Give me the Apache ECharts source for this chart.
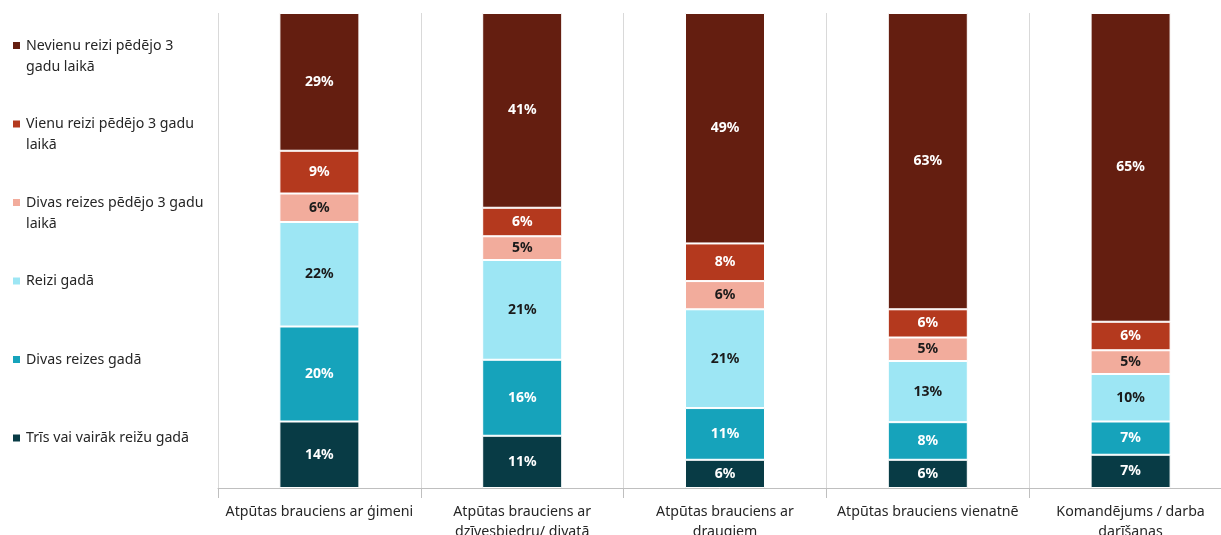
<!DOCTYPE html>
<html>
<head>
<meta charset="utf-8">
<script src="https://cdn.jsdelivr.net/npm/echarts@6/dist/echarts.min.js"></script>
<style>
html,body{margin:0;padding:0;background:#fff;}
#c{width:1221px;height:535px;}
</style>
</head>
<body>
<div id="c"></div>
<script>
// Categories (tick labels)
const categories = [
  'Atpūtas brauciens ar ģimeni',
  'Atpūtas brauciens ar\ndzīvesbiedru/ divatā',
  'Atpūtas brauciens ar\ndraugiem',
  'Atpūtas brauciens vienatnē',
  'Komandējums / darba\ndarīšanas'
];
// Series names (bottom to top of stack)
const seriesNames = [
  'Trīs vai vairāk reižu gadā',
  'Divas reizes gadā',
  'Reizi gadā',
  'Divas reizes pēdējo 3 gadu laikā',
  'Vienu reizi pēdējo 3 gadu laikā',
  'Nevienu reizi pēdējo 3 gadu laikā'
];
// Series values (%), per category
const trisVaiVairak   = [14, 11, 6, 6, 7];
const divasReizesGada = [20, 16, 11, 8, 7];
const reiziGada       = [22, 21, 21, 13, 10];
const divasReizes3    = [6, 5, 6, 5, 5];
const vienuReizi3     = [9, 6, 8, 6, 6];
const nevienuReizi3   = [29, 41, 49, 63, 65];

const seriesValues = [trisVaiVairak, divasReizesGada, reiziGada, divasReizes3, vienuReizi3, nevienuReizi3];
const colors = ['#083B45', '#16A3BB', '#9DE6F4', '#F2AC9C', '#B4391E', '#641E10'];
const labelColors = ['#FFFFFF', '#FFFFFF', '#1A1A1A', '#1A1A1A', '#FFFFFF', '#FFFFFF'];
const legendLines = {
  'Nevienu reizi pēdējo 3 gadu laikā': ['Nevienu reizi pēdējo 3', 'gadu laikā'],
  'Vienu reizi pēdējo 3 gadu laikā': ['Vienu reizi pēdējo 3 gadu', 'laikā'],
  'Divas reizes pēdējo 3 gadu laikā': ['Divas reizes pēdējo 3 gadu', 'laikā'],
  'Reizi gadā': ['Reizi gadā', ''],
  'Divas reizes gadā': ['Divas reizes gadā', ''],
  'Trīs vai vairāk reižu gadā': ['Trīs vai vairāk reižu gadā', '']
};

// 100% stacked: normalise each category to its total
const totals = categories.map((_, i) => seriesValues.reduce((s, arr) => s + arr[i], 0));

const FONT = 'Noto Sans';
const chart = echarts.init(document.getElementById('c'), null, {renderer: 'canvas'});

const series = seriesNames.map((name, k) => ({
  name: name,
  type: 'bar',
  stack: 'total',
  barWidth: 80,
  itemStyle: {color: colors[k], borderColor: '#FFFFFF', borderWidth: 1},
  label: {
    show: true,
    position: 'inside',
    color: labelColors[k],
    fontFamily: FONT,
    fontWeight: 'bold',
    fontSize: 14,
    formatter: p => seriesValues[k][p.dataIndex] + '%'
  },
  data: seriesValues[k].map((v, i) => v * 100 / totals[i])
}));

chart.setOption({
  animation: false,
  color: colors,
  legend: {
    orient: 'vertical',
    left: 11,
    top: 14,
    padding: 0,
    itemGap: 15.5,
    itemWidth: 9,
    itemHeight: 9,
    icon: 'rect',
    data: seriesNames.slice().reverse(),
    formatter: name => '\n' + legendLines[name].join('\n'),
    textStyle: {fontFamily: FONT, fontSize: 14.2, color: '#262626', lineHeight: 21}
  },
  grid: {left: 218, right: -11, top: 13, bottom: 47, containLabel: false, outerBoundsMode: 'none'},
  xAxis: {
    type: 'category',
    data: categories,
    boundaryGap: true,
    axisLine: {show: true, lineStyle: {color: '#BFBFBF', width: 1}},
    axisTick: {show: true, length: 10, lineStyle: {color: '#BFBFBF'}},
    splitLine: {show: true, lineStyle: {color: '#D9D9D9', width: 1}},
    axisLabel: {
      interval: 0,
      margin: 14,
      fontFamily: FONT,
      fontSize: 14.2,
      color: '#262626',
      lineHeight: 20
    }
  },
  yAxis: {
    type: 'value',
    min: 0,
    max: 100,
    show: false
  },
  series: series
});
</script>
</body>
</html>
